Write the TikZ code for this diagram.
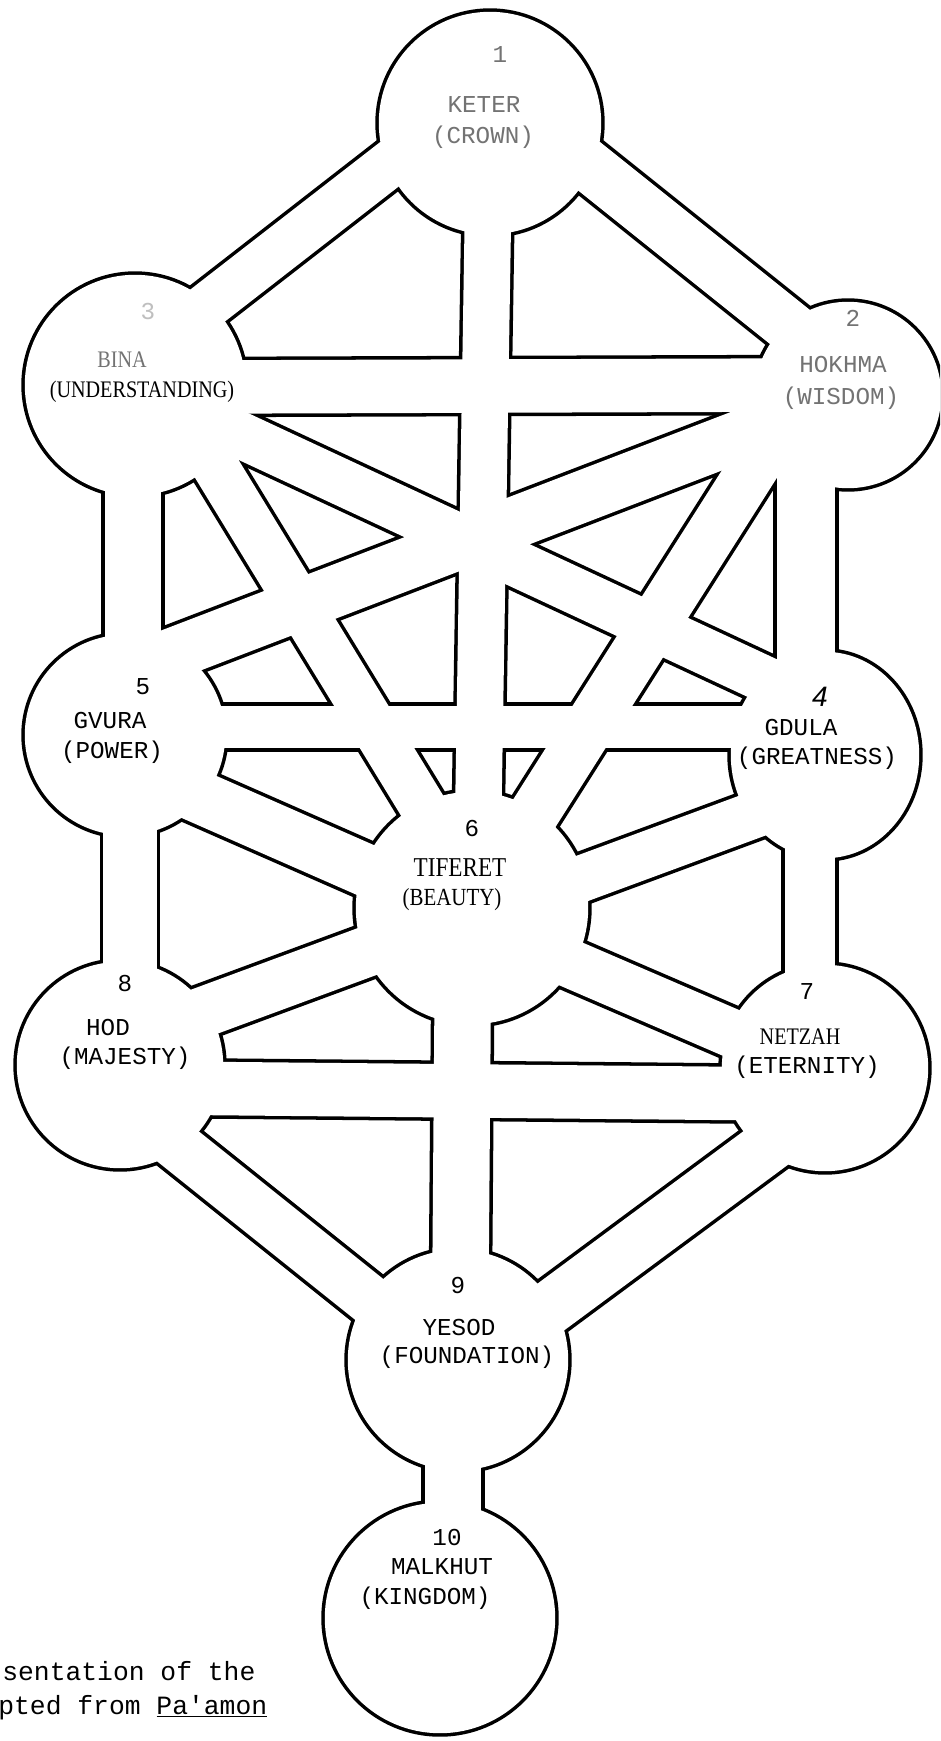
\documentclass[tikz,border=0pt]{standalone}
\usepackage{fontspec}
\setmainfont{Liberation Serif}
\newfontfamily\twfont{Liberation Mono}
\newfontfamily\condfont{Liberation Serif}[FakeStretch=0.85]
\newfontfamily\handfont{Liberation Sans}
\newcommand{\drawtree}[2]{%
  \foreach \c/\rx/\ry in {kt/113/113, hk/95/95, bn/112/112, gd/96/105, gv/102/102,
      tf/118/118, nz/105/105, hd/105/105, ys/112/112, mk/117/117}
    \fill[#1] (\c) ellipse[x radius=\rx*0.569pt#2, y radius=\ry*0.569pt#2];
  \foreach \a/\b/\w in {b12a/b12b/55, b13a/b13b/50, b16a/b16b/50, b23a/b23b/57,
      b24a/b24b/62, b25a/b25b/55, b26a/b26b/54, b34a/b34b/50, b35a/b35b/60,
      b36a/b36b/50, b45a/b45b/46, b46a/b46b/50, b47a/b47b/54, b56a/b56b/56,
      b58a/b58b/57, b67a/b67b/52, b68a/b68b/54, b69a/b69b/60, b78a/b78b/57,
      b79a/b79b/57, b89a/b89b/53, b910a/b910b/60}
    \draw[#1, line width=\w*0.569pt#2#2] (\a) -- (\b);
}
\begin{document}
\begin{tikzpicture}[x=0.02cm,y=-0.02cm,
  lab/.style={font=\twfont\fontsize{13.8}{16}\selectfont, inner sep=0pt},
  clab/.style={font=\condfont\fontsize{13.5}{16}\selectfont, inner sep=0pt},
  faint/.style={text=black!55},
  captext/.style={font=\twfont\fontsize{15}{18}\selectfont, inner sep=0pt, anchor=base west}]
\useasboundingbox (0,0) rectangle (940,1741);
\fill[white] (0,0) rectangle (940,1741);
\clip (0,0) rectangle (940,1741);
% sefirot centres
\coordinate (kt) at (490,123);
\coordinate (hk) at (848,395);
\coordinate (bn) at (135,385);
\coordinate (gd) at (825,755);
\coordinate (gv) at (125,735);
\coordinate (tf) at (472,908);
\coordinate (nz) at (825,1068);
\coordinate (hd) at (120,1065);
\coordinate (ys) at (458,1360);
\coordinate (mk) at (440,1618);
% path ends
\coordinate (b12a) at (530,119);  \coordinate (b12b) at (820,351);
\coordinate (b13a) at (440,125);  \coordinate (b13b) at (180,327);
\coordinate (b16a) at (489,150);  \coordinate (b16b) at (478,830);
\coordinate (b23a) at (200,387);  \coordinate (b23b) at (800,385);
\coordinate (b24a) at (806,420);  \coordinate (b24b) at (806,740);
\coordinate (b25a) at (800,413);  \coordinate (b25b) at (130,670);
\coordinate (b26a) at (790,410);  \coordinate (b26b) at (518,839);
\coordinate (b34a) at (180,407);  \coordinate (b34b) at (790,691);
\coordinate (b35a) at (133,400);  \coordinate (b35b) at (133,720);
\coordinate (b36a) at (187,420);  \coordinate (b36b) at (437,830);
\coordinate (b45a) at (150,727);  \coordinate (b45b) at (790,727);
\coordinate (b46a) at (800,798);  \coordinate (b46b) at (540,894);
\coordinate (b47a) at (810,760);  \coordinate (b47b) at (810,1060);
\coordinate (b56a) at (140,771);  \coordinate (b56b) at (420,894);
\coordinate (b58a) at (130,760);  \coordinate (b58b) at (130,1060);
\coordinate (b67a) at (520,942);  \coordinate (b67b) at (780,1054);
\coordinate (b68a) at (160,1028); \coordinate (b68b) at (420,932);
\coordinate (b69a) at (463,960);  \coordinate (b69b) at (460,1340);
\coordinate (b78a) at (160,1088); \coordinate (b78b) at (790,1094);
\coordinate (b79a) at (790,1130); \coordinate (b79b) at (490,1352);
\coordinate (b89a) at (150,1124); \coordinate (b89b) at (430,1348);
\coordinate (b910a) at (453,1400); \coordinate (b910b) at (453,1560);
% outline of the union: black pass, then white pass
\drawtree{black}{+1pt}
\drawtree{white}{-1pt}
% labels
\node[lab,faint] (n1) at (500,55) {1};
\node[lab,faint] (t1) at (484,105) {KETER};
\node[lab,faint] (s1) at (483,137) {(CROWN)};
\node[lab,faint] (n2) at (853,318) {2};
\node[lab,faint] (t2) at (843,365) {HOKHMA};
\node[lab,faint] (s2) at (841,398) {(WISDOM)};
\node[lab,text=black!25] (n3) at (148,312) {3};
\node[clab,faint] (t3) at (122,360) {BINA};
\node[clab] (s3) at (142,392) {(UNDERSTANDING)};
\node[font=\handfont\itshape\fontsize{16}{18}\selectfont, inner sep=0pt] (n4) at (820,697) {4};
\node[lab] (t4) at (801,727) {GDULA};
\node[lab] (s4) at (817,758) {(GREATNESS)};
\node[lab] (n5) at (143,687) {5};
\node[lab] (t5) at (110,720) {GVURA};
\node[lab] (s5) at (112,752) {(POWER)};
\node[lab] (n6) at (472,828) {6};
\node[clab,font=\condfont\fontsize{15.5}{17}\selectfont] (t6) at (460,868) {TIFERET};
\node[clab,font=\condfont\fontsize{14}{16}\selectfont] (s6) at (452,900) {(BEAUTY)};
\node[lab] (n7) at (807,992) {7};
\node[clab] (t7) at (800,1037) {NETZAH};
\node[lab] (s7) at (807,1067) {(ETERNITY)};
\node[lab] (n8) at (125,983) {8};
\node[lab] (t8) at (108,1027) {HOD};
\node[lab] (s8) at (125,1058) {(MAJESTY)};
\node[lab] (n9) at (458,1285) {9};
\node[lab] (t9) at (459,1327) {YESOD};
\node[lab] (s9) at (467,1357) {(FOUNDATION)};
\node[lab] (n10) at (447,1537) {10};
\node[lab] (t10) at (442,1567) {MALKHUT};
\node[lab] (s10) at (425,1598) {(KINGDOM)};
% caption
\node[captext] (c1) at (2,1680) {sentation of the};
\node[captext] (c2) at (-2,1714) {pted from \underline{Pa'amon}};
\end{tikzpicture}
\end{document}
